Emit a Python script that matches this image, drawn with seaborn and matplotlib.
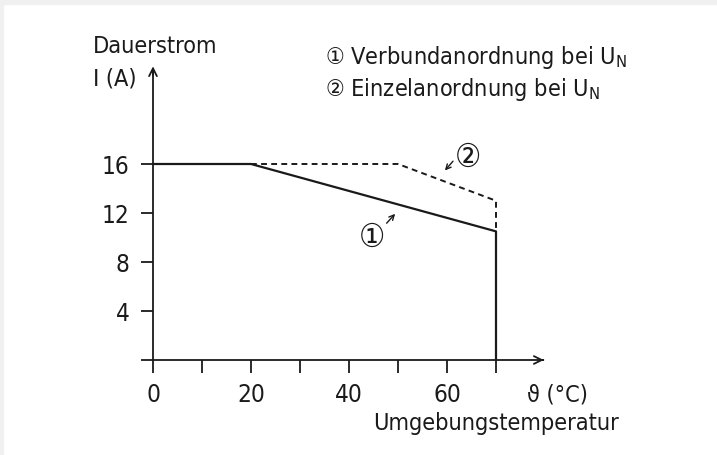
import seaborn as sns
import matplotlib.pyplot as plt
import pandas as pd
from matplotlib.patches import Rectangle

# Kennlinien (Temperatur in °C, Strom in A)
verbund_temp = [0, 20, 70, 70]
verbund_strom = [16, 16, 10.5, 0]
einzel_temp = [20, 50, 70, 70]
einzel_strom = [16, 16, 13, 10.5]

x_ticks = [0, 10, 20, 30, 40, 50, 60, 70]
x_labels = ["0", "", "20", "", "40", "", "60", ""]
y_ticks = [0, 4, 8, 12, 16]
y_labels = ["", "4", "8", "12", "16"]

sns.set_style("white")
plt.rcParams["font.family"] = ["DejaVu Sans"]
plt.rcParams["font.stretch"] = "condensed"
plt.rcParams["mathtext.default"] = "regular"

INK = "#1a1a1a"
FS = 17.5      # Achsenzahlen
FS_TXT = 16.8  # lange Beschriftungen

W, H = 717, 456
fig = plt.figure(figsize=(W / 100, H / 100), dpi=100)

# leichter grauer Rand oben/links
fig.patches.append(Rectangle((0, 1 - 5 / H), 1, 5 / H, transform=fig.transFigure,
                             color="#f0f0f0", zorder=-1))
fig.patches.append(Rectangle((0, 0), 3 / W, 1, transform=fig.transFigure,
                             color="#f0f0f0", zorder=-1))

# Achse so platzieren, dass 10 °C = 49 px und 4 A = 49 px
xlim = (-3, 82)
ylim = (-1, 25)
px_x, px_y = 4.9, 12.25
left = 153 + px_x * xlim[0]
right = 153 + px_x * xlim[1]
bottom = 361 - px_y * ylim[0]
top = 361 - px_y * ylim[1]
ax = fig.add_axes([left / W, 1 - bottom / H, (right - left) / W, (bottom - top) / H])
ax.set_xlim(*xlim)
ax.set_ylim(*ylim)
ax.patch.set_alpha(0)

df1 = pd.DataFrame({"t": verbund_temp, "i": verbund_strom})
df2 = pd.DataFrame({"t": einzel_temp, "i": einzel_strom})
sns.lineplot(data=df1, x="t", y="i", sort=False, estimator=None, color=INK, lw=1.6, ax=ax)
sns.lineplot(data=df2, x="t", y="i", sort=False, estimator=None, color=INK, lw=1.4,
             linestyle=(0, (3, 2.2)), ax=ax)

# Achsen mit Pfeilen
for s in ["top", "right"]:
    ax.spines[s].set_visible(False)
ax.spines["left"].set_position(("data", 0))
ax.spines["bottom"].set_position(("data", 0))
ax.spines["left"].set_bounds(0, 23.5)
ax.spines["bottom"].set_bounds(0, 79.5)
for s in ["left", "bottom"]:
    ax.spines[s].set_color(INK)
    ax.spines[s].set_linewidth(1.3)
ax.annotate("", xy=(80.3, 0), xytext=(79, 0),
            arrowprops=dict(arrowstyle="->", color=INK, lw=1.3, mutation_scale=14))
ax.annotate("", xy=(0, 24.2), xytext=(0, 23),
            arrowprops=dict(arrowstyle="->", color=INK, lw=1.3, mutation_scale=14))

ax.set_xticks(x_ticks)
ax.set_xticklabels(x_labels)
ax.set_yticks(y_ticks)
ax.set_yticklabels(y_labels)
ax.tick_params(axis="both", direction="out", length=9, width=1.3, color=INK,
               labelsize=FS, labelcolor=INK, bottom=True, left=True)
ax.tick_params(axis="x", pad=7)
ax.tick_params(axis="y", pad=8)
ax.set_xlabel("")
ax.set_ylabel("")

# Markierungen an den Kurven
ax.text(44.7, 10.1, "①", fontsize=FS + 6, color=INK, ha="center", va="center")
ax.annotate("", xy=(49.8, 12.1), xytext=(47.3, 11.0),
            arrowprops=dict(arrowstyle="->", color=INK, lw=1.0, mutation_scale=9))
ax.text(64.2, 16.6, "②", fontsize=FS + 6, color=INK, ha="center", va="center")
ax.annotate("", xy=(59.2, 15.3), xytext=(61.6, 16.4),
            arrowprops=dict(arrowstyle="->", color=INK, lw=1.0, mutation_scale=9))

# Beschriftungen
fig.text(93 / W, 1 - 53 / H, "Dauerstrom", fontsize=FS_TXT, color=INK, ha="left", va="baseline")
fig.text(93 / W, 1 - 85 / H, "I (A)", fontsize=FS_TXT, color=INK, ha="left", va="baseline")
fig.text(325 / W, 1 - 64 / H, "① Verbundanordnung bei U$_{N}$", fontsize=FS_TXT, color=INK,
         ha="left", va="baseline")
fig.text(325 / W, 1 - 96 / H, "② Einzelanordnung bei U$_{N}$", fontsize=FS_TXT, color=INK,
         ha="left", va="baseline")
fig.text(527 / W, 1 - 402 / H, "ϑ (°C)", fontsize=FS_TXT, color=INK, ha="left", va="baseline")
fig.text(373 / W, 1 - 430 / H, "Umgebungstemperatur", fontsize=FS_TXT, color=INK,
         ha="left", va="baseline")

fig.savefig("out.png", dpi=100)
